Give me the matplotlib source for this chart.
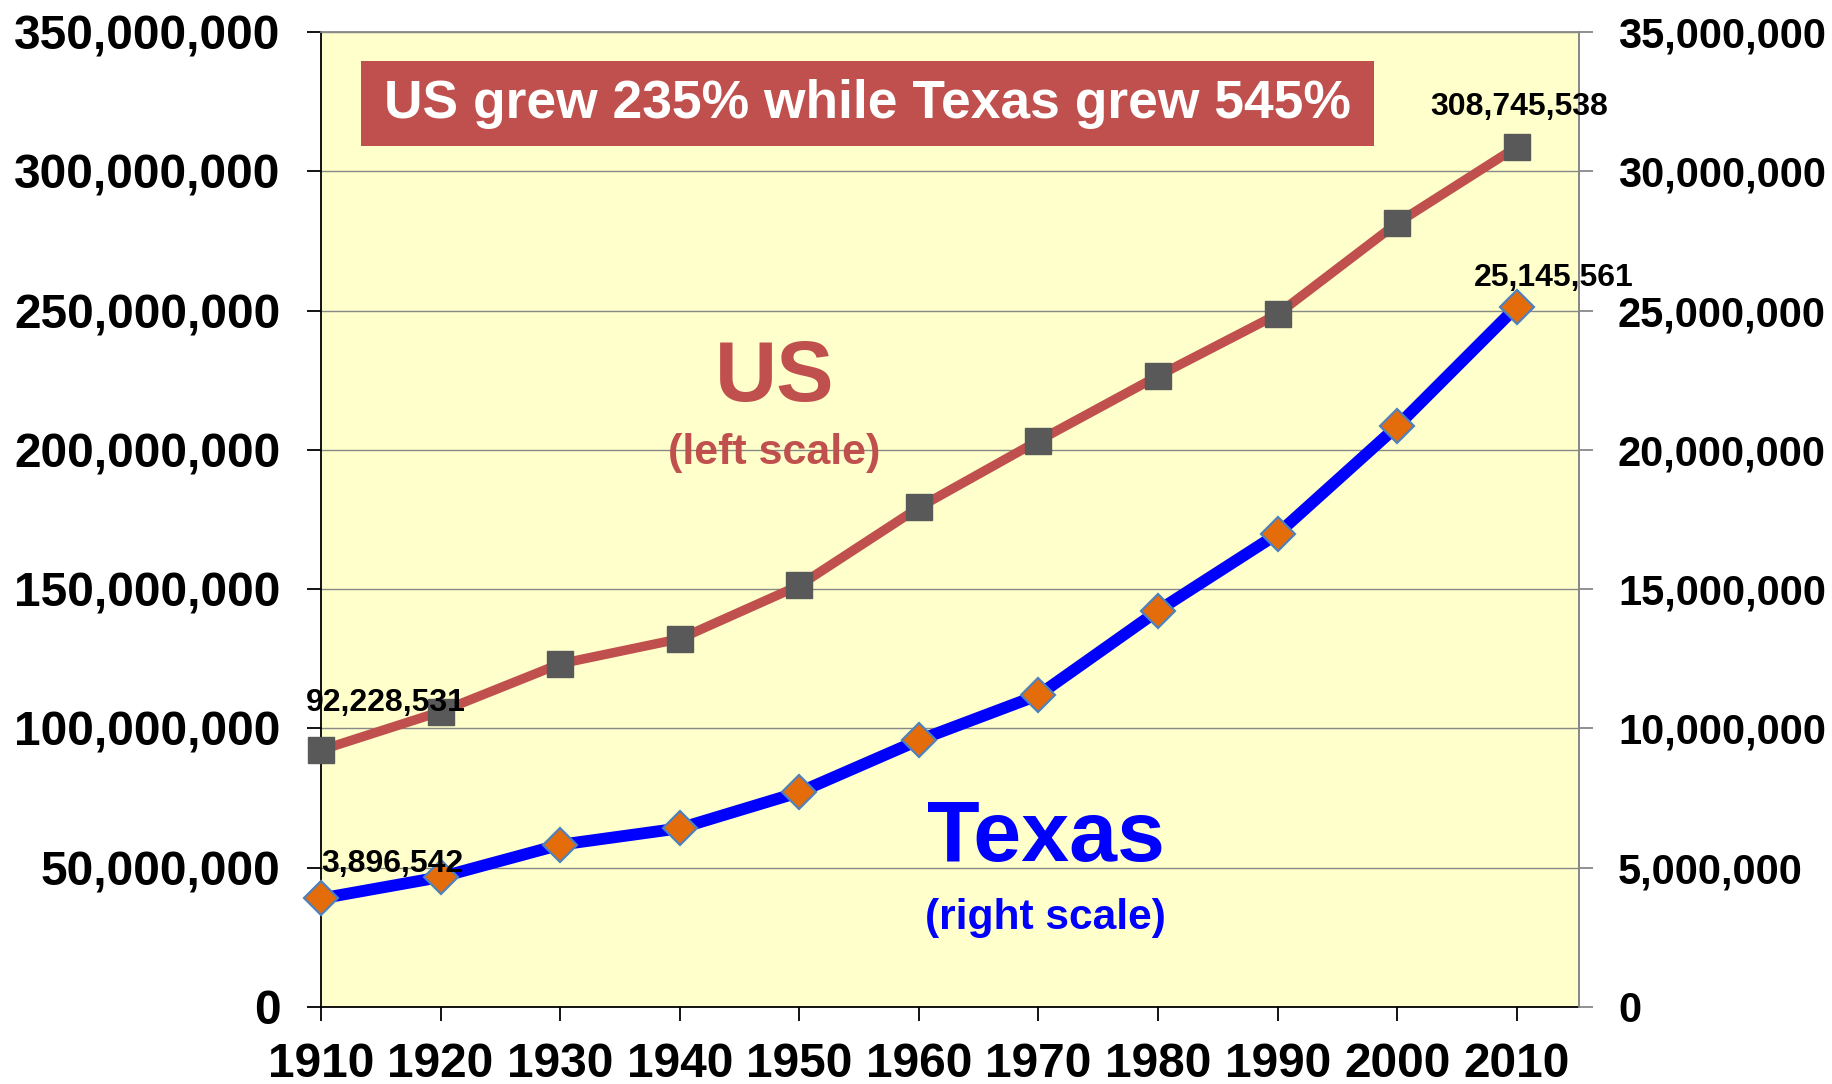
import matplotlib
matplotlib.use("Agg")
import matplotlib.pyplot as plt
from matplotlib.ticker import FuncFormatter, MultipleLocator
from matplotlib.patches import Rectangle

plt.rcParams['font.family'] = ['Liberation Sans', 'DejaVu Sans']
plt.rcParams['font.weight'] = 'bold'

years = [1910, 1920, 1930, 1940, 1950, 1960, 1970, 1980, 1990, 2000, 2010]
us_pop = [92228531, 106021537, 123202624, 132164569, 151325798, 179323175,
          203302031, 226542199, 248709873, 281421906, 308745538]
tx_pop = [3896542, 4663228, 5824715, 6414824, 7711194, 9579677,
          11196730, 14229191, 16986510, 20851820, 25145561]
title_text = "US grew 235% while Texas grew 545%"

US_RED = "#C0504D"
GRID = "#888888"

fig = plt.figure(figsize=(18.33, 10.84), dpi=100)
ax1 = fig.add_axes([321/1833, 1-1007/1084, (1579-321)/1833, (1007-32)/1084])
ax1.set_facecolor("#FFFFCC")
ax2 = ax1.twinx()
ax2.patch.set_visible(False)

ax1.plot(years, us_pop, color=US_RED, lw=6.8, marker='s', ms=18.5,
         mfc="#595959", mec="#595959", zorder=3, clip_on=False)
ax2.plot(years, tx_pop, color="#0000FF", lw=8.5, marker='D', ms=17.5,
         mfc="#E46C0A", mec="#4F81BD", mew=1.6, zorder=3, clip_on=False)

ax1.set_xlim(1910, 2015.2)
ax1.set_ylim(0, 350_000_000)
ax2.set_ylim(0, 35_000_000)
ax1.yaxis.set_major_locator(MultipleLocator(50_000_000))
ax2.yaxis.set_major_locator(MultipleLocator(5_000_000))
ax1.set_xticks(years)
ax1.set_xticklabels([str(y) for y in years])

fmt = FuncFormatter(lambda v, p: f"{v:,.0f}")
ax1.yaxis.set_major_formatter(fmt)
ax2.yaxis.set_major_formatter(fmt)

ax1.grid(axis='y', color=GRID, lw=1.0, zorder=0)
ax1.set_axisbelow(True)

for ax in (ax1, ax2):
    for s in ax.spines.values():
        s.set_linewidth(1.3)
ax1.spines['left'].set_color('black')
ax1.spines['bottom'].set_color('black')
ax1.spines['top'].set_color(GRID)
ax1.spines['right'].set_color(GRID)
ax2.spines['right'].set_color(GRID)
ax2.spines['left'].set_visible(False)
ax2.spines['top'].set_visible(False)
ax2.spines['bottom'].set_visible(False)

ax1.tick_params(axis='x', direction='out', length=10, width=1.3, color='black',
                labelsize=34.5, pad=15)
ax1.tick_params(axis='y', direction='out', length=10, width=1.3, color='black',
                labelsize=34.5, pad=19)
ax2.tick_params(axis='y', direction='out', length=10, width=1.3, color=GRID,
                labelsize=30, pad=18)
for lab in ax1.get_xticklabels() + ax1.get_yticklabels() + ax2.get_yticklabels():
    lab.set_fontweight('bold')

# Title box
ax2.add_patch(Rectangle((0.0318, 0.883), 0.805, 0.087, transform=ax1.transAxes,
                        facecolor=US_RED, edgecolor='none', zorder=5))
ax2.text(0.4344, 0.9265, title_text, transform=ax1.transAxes, color='white',
         fontsize=38.4, fontweight='bold', ha='center', va='center', zorder=6)

# Series labels
T1 = ax1.transData
ax2.text(1947.9, 225.3e6, "US", transform=T1, color=US_RED, fontsize=62,
         fontweight='bold', ha='center', va='center', zorder=6)
ax2.text(1947.9, 198.8e6, "(left scale)", transform=T1, color=US_RED, fontsize=31,
         fontweight='bold', ha='center', va='center', zorder=6)
ax2.text(1970.6, 60.2e6, "Texas", transform=T1, color="#0000FF", fontsize=62,
         fontweight='bold', ha='center', va='center', zorder=6)
ax2.text(1970.6, 31.8e6, "(right scale)", transform=T1, color="#0000FF", fontsize=30.6,
         fontweight='bold', ha='center', va='center', zorder=6)

# Data labels
ax2.text(1915.4, 109.1e6, f"{us_pop[0]:,}", transform=T1, fontsize=23,
         fontweight='bold', ha='center', va='center', zorder=7)
ax2.text(2010.2, 323.1e6, f"{us_pop[-1]:,}", transform=T1, fontsize=23,
         fontweight='bold', ha='center', va='center', zorder=7)
ax2.text(1916.0, 5.13e6, f"{tx_pop[0]:,}", fontsize=23,
         fontweight='bold', ha='center', va='center', zorder=7)
ax2.text(2013.1, 26.17e6, f"{tx_pop[-1]:,}", fontsize=23,
         fontweight='bold', ha='center', va='center', zorder=7)

fig.savefig("out.png", dpi=100)
